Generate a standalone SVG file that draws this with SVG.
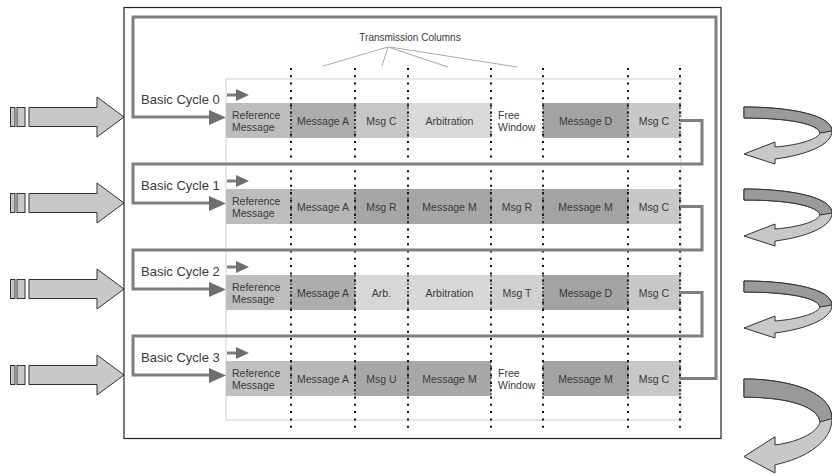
<svg xmlns="http://www.w3.org/2000/svg" xmlns:xlink="http://www.w3.org/1999/xlink" width="832" height="476" viewBox="0 0 832 476">
<style>
text{font-family:"Liberation Sans",Arial,sans-serif;fill:#3a3a3a}
.cyc{font-size:13px}
.cell{font-size:10.5px}
.c{text-anchor:middle}
.loop{fill:none;stroke:#7f7f7f;stroke-width:3}
.ah{fill:#6e6e6e}
.dots{stroke:#111;stroke-width:2;stroke-dasharray:2 5.3}
.idots{stroke:#333;stroke-width:1.2;stroke-dasharray:2 2}
.blk{fill:#c8c8c8;stroke:#333;stroke-width:1}
.ut{stroke:#333;stroke-width:1;vector-effect:non-scaling-stroke}
.fan{stroke:#aaa;stroke-width:1;fill:none}
</style>
<defs>
<g id="blockarrow">
<rect x="10.5" y="-9.5" width="4.5" height="19" class="blk"/>
<rect x="17" y="-9.5" width="8" height="19" class="blk"/>
<path d="M29,-9.5 L97,-9.5 L97,-20 L124,0 L97,20 L97,9.5 L29,9.5 Z" class="blk"/>
</g>
<g id="uturn">
<path class="ut" fill="#c8c8c8" d="M744,0 C790,0 832,8 832,24 C832,38 806,48 775,52 L775,57 L744,47 L775,35 L775,40 C800,38 818,32 820,26 C818,17 790,11 744,11 Z"/>
<path class="ut" fill="#9a9a9a" d="M744,0 C790,0 832,8 832,24 L820,26 C818,17 790,11 744,11 Z"/>
</g>
</defs>
<rect width="832" height="476" fill="#fff"/>

<!-- left input arrows -->
<g id="inputs">
<use xlink:href="#blockarrow" transform="translate(0,117)"/>
<use xlink:href="#blockarrow" transform="translate(0,203)"/>
<use xlink:href="#blockarrow" transform="translate(0,289)"/>
<use xlink:href="#blockarrow" transform="translate(0,375)"/>
</g>

<!-- right u-turn arrows -->
<g id="uturns">
<use xlink:href="#uturn" transform="translate(0,107)"/>
<use xlink:href="#uturn" transform="translate(0,189)"/>
<use xlink:href="#uturn" transform="translate(0,281)"/>
<use xlink:href="#uturn" transform="translate(0,379) scale(1,1.65)"/>
</g>

<!-- outer frame -->
<rect x="124" y="7.5" width="597" height="431" fill="#fff" stroke="#222" stroke-width="1.2"/>

<!-- grid area -->
<rect x="226" y="79" width="455" height="341" fill="#fff" stroke="#d0d0d0" stroke-width="1"/>

<!-- transmission columns label -->
<g id="label">
<text x="410" y="41" class="c" style="font-size:10px">Transmission Columns</text>
<path class="fan" d="M388,47 L323,66 M388,47 L382,66 M388,47 L448,67 M390,47 L517,67"/>
</g>

<!-- cells -->
<g id="row0">
<rect x="226" y="103" width="65" height="35" fill="#bdbdbd"/>
<rect x="291" y="103" width="64" height="35" fill="#adadad"/>
<rect x="355" y="103" width="53" height="35" fill="#c6c6c6"/>
<rect x="408" y="103" width="83" height="35" fill="#d9d9d9"/>
<rect x="491" y="103" width="52" height="35" fill="#ffffff"/>
<rect x="543" y="103" width="85" height="35" fill="#a3a3a3"/>
<rect x="628" y="103" width="52" height="35" fill="#c8c8c8"/>
<text x="232" y="119" class="cell">Reference</text><text x="232" y="131" class="cell">Message</text>
<text x="323" y="125" class="cell c">Message A</text>
<text x="381.5" y="125" class="cell c">Msg C</text>
<text x="449.5" y="125" class="cell c">Arbitration</text>
<text x="498" y="119" class="cell">Free</text><text x="498" y="131" class="cell">Window</text>
<text x="585.5" y="125" class="cell c">Message D</text>
<text x="654" y="125" class="cell c">Msg C</text>
</g>
<g id="row1">
<rect x="226" y="189" width="65" height="35" fill="#bdbdbd"/>
<rect x="291" y="189" width="64" height="35" fill="#b6b6b6"/>
<rect x="355" y="189" width="53" height="35" fill="#a6a6a6"/>
<rect x="408" y="189" width="83" height="35" fill="#a6a6a6"/>
<rect x="491" y="189" width="52" height="35" fill="#b2b2b2"/>
<rect x="543" y="189" width="85" height="35" fill="#a3a3a3"/>
<rect x="628" y="189" width="52" height="35" fill="#c8c8c8"/>
<text x="232" y="205" class="cell">Reference</text><text x="232" y="217" class="cell">Message</text>
<text x="323" y="211" class="cell c">Message A</text>
<text x="381.5" y="211" class="cell c">Msg R</text>
<text x="449.5" y="211" class="cell c">Message M</text>
<text x="517" y="211" class="cell c">Msg R</text>
<text x="585.5" y="211" class="cell c">Message M</text>
<text x="654" y="211" class="cell c">Msg C</text>
</g>
<g id="row2">
<rect x="226" y="275" width="65" height="35" fill="#bdbdbd"/>
<rect x="291" y="275" width="64" height="35" fill="#adadad"/>
<rect x="355" y="275" width="53" height="35" fill="#d7d7d7"/>
<rect x="408" y="275" width="83" height="35" fill="#d7d7d7"/>
<rect x="491" y="275" width="52" height="35" fill="#d0d0d0"/>
<rect x="543" y="275" width="85" height="35" fill="#a3a3a3"/>
<rect x="628" y="275" width="52" height="35" fill="#c8c8c8"/>
<text x="232" y="291" class="cell">Reference</text><text x="232" y="303" class="cell">Message</text>
<text x="323" y="297" class="cell c">Message A</text>
<text x="381.5" y="297" class="cell c">Arb.</text>
<text x="449.5" y="297" class="cell c">Arbitration</text>
<text x="517" y="297" class="cell c">Msg T</text>
<text x="585.5" y="297" class="cell c">Message D</text>
<text x="654" y="297" class="cell c">Msg C</text>
</g>
<g id="row3">
<rect x="226" y="361" width="65" height="35" fill="#c0c0c0"/>
<rect x="291" y="361" width="64" height="35" fill="#b8b8b8"/>
<rect x="355" y="361" width="53" height="35" fill="#a8a8a8"/>
<rect x="408" y="361" width="83" height="35" fill="#a8a8a8"/>
<rect x="491" y="361" width="52" height="35" fill="#ffffff"/>
<rect x="543" y="361" width="85" height="35" fill="#a3a3a3"/>
<rect x="628" y="361" width="52" height="35" fill="#c8c8c8"/>
<text x="232" y="377" class="cell">Reference</text><text x="232" y="389" class="cell">Message</text>
<text x="323" y="383" class="cell c">Message A</text>
<text x="381.5" y="383" class="cell c">Msg U</text>
<text x="449.5" y="383" class="cell c">Message M</text>
<text x="498" y="377" class="cell">Free</text><text x="498" y="389" class="cell">Window</text>
<text x="585.5" y="383" class="cell c">Message M</text>
<text x="654" y="383" class="cell c">Msg C</text>
</g>

<!-- column dotted lines -->
<g id="columns">
<path class="dots" d="M291,68 V432 M355,68 V432 M408,68 V432 M491,68 V432 M543,68 V432 M628,68 V432 M680,68 V432"/>
<path class="idots" d="M291,103 V138 M355,103 V138 M408,103 V138 M491,103 V138 M543,103 V138 M628,103 V138 M680,103 V138
M291,189 V224 M355,189 V224 M408,189 V224 M491,189 V224 M543,189 V224 M628,189 V224 M680,189 V224
M291,275 V310 M355,275 V310 M408,275 V310 M491,275 V310 M543,275 V310 M628,275 V310 M680,275 V310
M291,361 V396 M355,361 V396 M408,361 V396 M491,361 V396 M543,361 V396 M628,361 V396 M680,361 V396"/>
</g>

<!-- connectors / loops -->
<g id="connectors">
<path class="loop" d="M680,378.5 H716 V17 H133 V117 H211"/>
<path class="loop" d="M680,120.5 H702 V164 H133 V203 H211"/>
<path class="loop" d="M680,206.5 H702 V250 H133 V289 H211"/>
<path class="loop" d="M680,292.5 H702 V336 H133 V375 H211"/>
<path class="ah" d="M209,110 L226,117.5 L209,125 Z M209,196 L226,203.5 L209,211 Z M209,282 L226,289.5 L209,297 Z M209,368 L226,375.5 L209,383 Z"/>
<path class="loop" d="M227,95 H238 M227,181 H238 M227,267 H238 M227,353 H238"/>
<path class="ah" d="M236,89 L249,95 L236,101 Z M236,175 L249,181 L236,187 Z M236,261 L249,267 L236,273 Z M236,347 L249,353 L236,359 Z"/>
</g>

<!-- cycle labels -->
<g id="cycle0"><text x="141" y="104" class="cyc">Basic Cycle 0</text></g>
<g id="cycle1"><text x="141" y="190" class="cyc">Basic Cycle 1</text></g>
<g id="cycle2"><text x="141" y="276" class="cyc">Basic Cycle 2</text></g>
<g id="cycle3"><text x="141" y="362" class="cyc">Basic Cycle 3</text></g>
</svg>
